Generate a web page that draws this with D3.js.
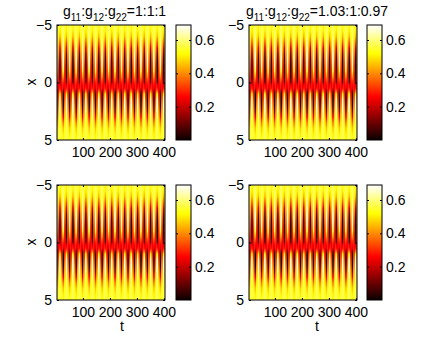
<!DOCTYPE html>
<html lang="en">
<head>
    <meta charset="UTF-8" />
    <title>Heatmaps</title>
    <script src="https://d3js.org/d3.v7.min.js"></script>
    <style>
        body { margin: 0; background: #fff; font-family: "Liberation Sans", Arial, sans-serif; }
    </style>
</head>
<body>
    <div id="chart"></div>
    <script>
        var w = 436;
        var h = 338;

        // x grid (rows) and the x profiles
        var xs = [-5, -4.5, -4, -3.5, -3, -2.5, -2, -1.5, -1, -0.5, 0, 0.25, 0.5, 0.75, 1, 1.5, 2, 2.5, 3, 3.5, 4, 4.5, 5];
        var topDark = [0.52, 0.50, 0.44, 0.34, 0.22, 0.12, 0.06, 0.03, 0.02, 0.03, 0.10, 0.24, 0.27, 0.38, 0.52, 0.64, 0.66, 0.64, 0.60, 0.58, 0.57, 0.57, 0.57];
        var midway  = [0.55, 0.54, 0.52, 0.49, 0.45, 0.41, 0.37, 0.33, 0.30, 0.28, 0.26, 0.25, 0.25, 0.26, 0.29, 0.34, 0.39, 0.43, 0.47, 0.50, 0.53, 0.54, 0.55];
        var bottomDark = [0.58, 0.58, 0.59, 0.61, 0.63, 0.65, 0.66, 0.63, 0.55, 0.42, 0.29, 0.26, 0.23, 0.10, 0.03, 0.02, 0.05, 0.13, 0.25, 0.37, 0.46, 0.50, 0.52];

        // t of the dark stripes in the upper half
        var stripeT = [-9, 15, 39, 63, 87, 111, 135, 159, 183, 207, 231, 255, 279, 303, 327, 351, 375, 399, 423];

        var tTicks = [100, 200, 300, 400];
        var xTicks = [-5, 0, 5];
        var cTicks = [0.2, 0.4, 0.6];
        var cMax = 0.69;

        var titles = ["1:1:1", "1.03:1:0.97"];

        var panels = [
            { left: 57, top: 25, cbLeft: 176, title: 0, titleX: 63, xlab: true, tlab: false },
            { left: 249, top: 25, cbLeft: 367, title: 1, titleX: 246, xlab: false, tlab: false },
            { left: 57, top: 185, cbLeft: 176, title: -1, xlab: true, tlab: true, tX: 122 },
            { left: 249, top: 185, cbLeft: 367, title: -1, xlab: false, tlab: true, tX: 317 }
        ];
        var pw = 108, ph = 115, cbw = 15;

        // MATLAB "hot" colormap
        var color = d3.scaleLinear()
            .domain([0, 0.375 * cMax, 0.75 * cMax, cMax])
            .range(["#0b0000", "#ff0000", "#ffff00", "#ffffff"])
            .clamp(true);

        var svg = d3.select("#chart").append("svg")
            .attr("width", w).attr("height", h);
        var defs = svg.append("defs");

        var profiles = [topDark, midway, bottomDark, midway];
        var yNorm = d3.scaleLinear().domain([-5, 5]).range([0, 1]);

        profiles.forEach(function(p, k) {
            var g = defs.append("linearGradient").attr("id", "prof" + k)
                .attr("x1", 0).attr("y1", 0).attr("x2", 0).attr("y2", 1);
            g.selectAll("stop").data(p).enter().append("stop")
                .attr("offset", function(d, i) { return yNorm(xs[i]); })
                .attr("stop-color", function(d) { return color(d); });
        });

        var cb = defs.append("linearGradient").attr("id", "cbar")
            .attr("x1", 0).attr("y1", 1).attr("x2", 0).attr("y2", 0);
        cb.selectAll("stop").data(color.domain()).enter().append("stop")
            .attr("offset", function(d) { return d / cMax; })
            .attr("stop-color", function(d) { return color(d); });

        // columns: 4 phases per stripe period
        var cols = [];
        for (var i = 0; i < stripeT.length - 1; i++) {
            var step = (stripeT[i + 1] - stripeT[i]) / 4;
            for (var j = 0; j < 4; j++) {
                cols.push({ t0: stripeT[i] + (j - 0.5) * step, t1: stripeT[i] + (j + 0.5) * step, k: j });
            }
        }

        panels.forEach(function(P, pi) {
            var x = d3.scaleLinear().domain([4, 404]).range([P.left, P.left + pw]);
            var y = d3.scaleLinear().domain([-5, 5]).range([P.top, P.top + ph]);

            defs.append("clipPath").attr("id", "clip" + pi)
                .append("rect").attr("x", P.left).attr("y", P.top).attr("width", pw).attr("height", ph);

            var g = svg.append("g");
            g.append("g").attr("clip-path", "url(#clip" + pi + ")")
                .selectAll("rect").data(cols).enter().append("rect")
                .attr("x", function(d) { return x(d.t0); })
                .attr("width", function(d) { return x(d.t1) - x(d.t0) + 0.3; })
                .attr("y", y(-5))
                .attr("height", y(5) - y(-5))
                .attr("fill", function(d) { return "url(#prof" + d.k + ")"; });

            // axes with inward ticks
            g.append("g").attr("transform", "translate(0," + (P.top + ph) + ")")
                .call(d3.axisBottom(x).tickValues(tTicks).tickSizeInner(-2).tickSizeOuter(0).tickPadding(7))
                .call(styleAxis);
            g.append("g").attr("transform", "translate(0," + P.top + ")")
                .call(d3.axisTop(x).tickValues(tTicks).tickSizeInner(-2).tickSizeOuter(0).tickFormat(""))
                .call(styleAxis);
            g.append("g").attr("transform", "translate(" + P.left + ",0)")
                .call(d3.axisLeft(y).tickValues(xTicks).tickSizeInner(-2).tickSizeOuter(0).tickPadding(5)
                    .tickFormat(function(d) { return d < 0 ? "\u2212" + (-d) : d; }))
                .call(styleAxis);
            g.append("g").attr("transform", "translate(" + (P.left + pw) + ",0)")
                .call(d3.axisRight(y).tickValues(xTicks).tickSizeInner(-2).tickSizeOuter(0).tickFormat(""))
                .call(styleAxis);
            g.append("rect").attr("x", P.left).attr("y", P.top).attr("width", pw).attr("height", ph)
                .attr("fill", "none").attr("stroke", "#000").attr("stroke-width", 1);

            // colorbar
            var cy = d3.scaleLinear().domain([0, cMax]).range([P.top + ph, P.top]);
            g.append("rect").attr("x", P.cbLeft).attr("y", P.top).attr("width", cbw).attr("height", ph)
                .attr("fill", "url(#cbar)").attr("stroke", "#000").attr("stroke-width", 1);
            g.append("g").attr("transform", "translate(" + (P.cbLeft + cbw) + ",0)")
                .call(d3.axisRight(cy).tickValues(cTicks).tickSizeInner(-2).tickSizeOuter(0).tickPadding(4)
                    .tickFormat(d3.format(".1f")))
                .call(styleAxis);
            g.append("g").attr("transform", "translate(" + P.cbLeft + ",0)")
                .call(d3.axisLeft(cy).tickValues(cTicks).tickSizeInner(-2).tickSizeOuter(0).tickFormat(""))
                .call(styleAxis);

            if (P.title >= 0) {
                var t = g.append("text").attr("x", P.titleX).attr("y", 16)
                    .attr("font-size", 14).attr("fill", "#000");
                t.append("tspan").text("g");
                t.append("tspan").attr("dy", 5).attr("font-size", 10).text("11");
                t.append("tspan").attr("dy", -5).text(":g");
                t.append("tspan").attr("dy", 5).attr("font-size", 10).text("12");
                t.append("tspan").attr("dy", -5).text(":g");
                t.append("tspan").attr("dy", 5).attr("font-size", 10).text("22");
                t.append("tspan").attr("dy", -5).text("=" + titles[P.title]);
            }
            if (P.xlab) {
                g.append("text").attr("transform", "translate(" + (P.left - 21) + "," + (P.top + 57) + ") rotate(-90)")
                    .attr("text-anchor", "middle").attr("font-size", 14).text("x");
            }
            if (P.tlab) {
                g.append("text").attr("x", P.tX).attr("y", P.top + ph + 31)
                    .attr("text-anchor", "middle").attr("font-size", 14).text("t");
            }
        });

        function styleAxis(sel) {
            sel.select(".domain").remove();
            sel.selectAll("line").attr("stroke", "#000");
            sel.selectAll("text").attr("font-size", 14).attr("fill", "#000")
                .attr("font-family", "Liberation Sans, Arial, sans-serif");
        }
    </script>
</body>
</html>
